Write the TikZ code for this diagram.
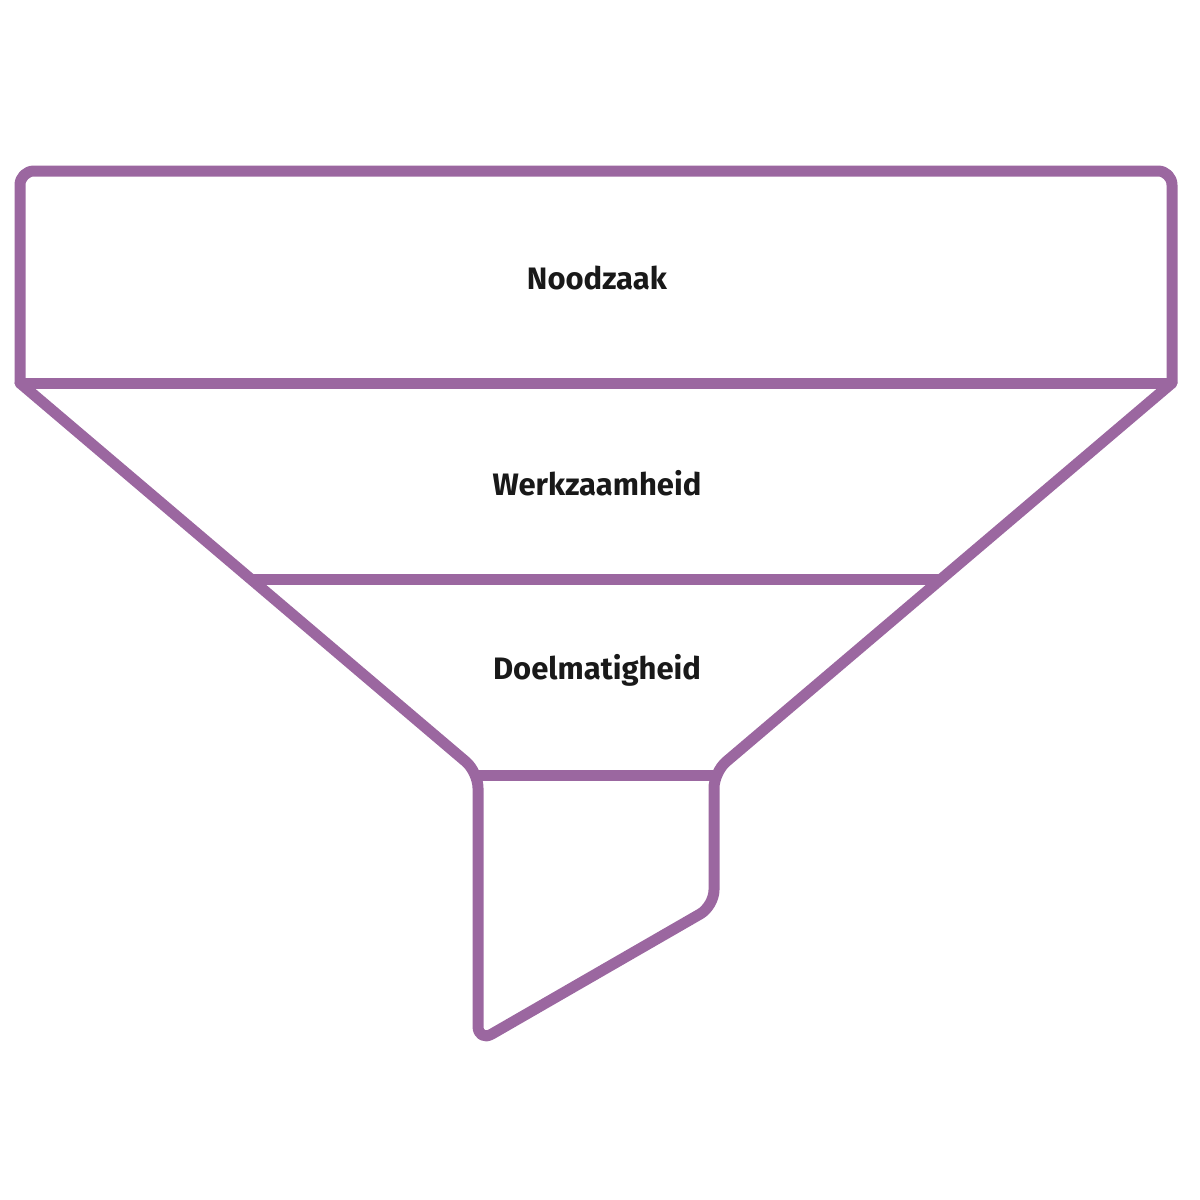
\documentclass[tikz,border=0pt]{standalone}
\usepackage{fontspec}
\setmainfont{Fira Sans}
\definecolor{fun}{HTML}{9B67A0}
\begin{document}
\begin{tikzpicture}[x=1pt,y=-1pt,
  edge/.style={draw=fun,line width=11pt,line join=round,line cap=round},
  lab/.style={font=\fontsize{31}{36}\selectfont\bfseries,text=black!90}]
\useasboundingbox (0,0) rectangle (1200,1200);
\draw[edge,rounded corners=14pt] (20,383) -- (20,171) -- (1172,171) -- (1172,383);
\draw[edge,rounded corners=16pt] (20,383) -- (478,772) -- (478,1042) -- (714,906) -- (714,772) -- (1172,383);
\draw[edge,line cap=butt] (20,383) -- (1172,383);
\draw[edge,line cap=butt] (252,579) -- (940,579);
\draw[edge,line cap=butt] (478,775) -- (714,775);
\node[lab] (n1) at (597,278) {Noodzaak};
\node[lab] (n2) at (597,483) {Werkzaamheid};
\node[lab] (n3) at (597,670) {Doelmatigheid};
\end{tikzpicture}
\end{document}
